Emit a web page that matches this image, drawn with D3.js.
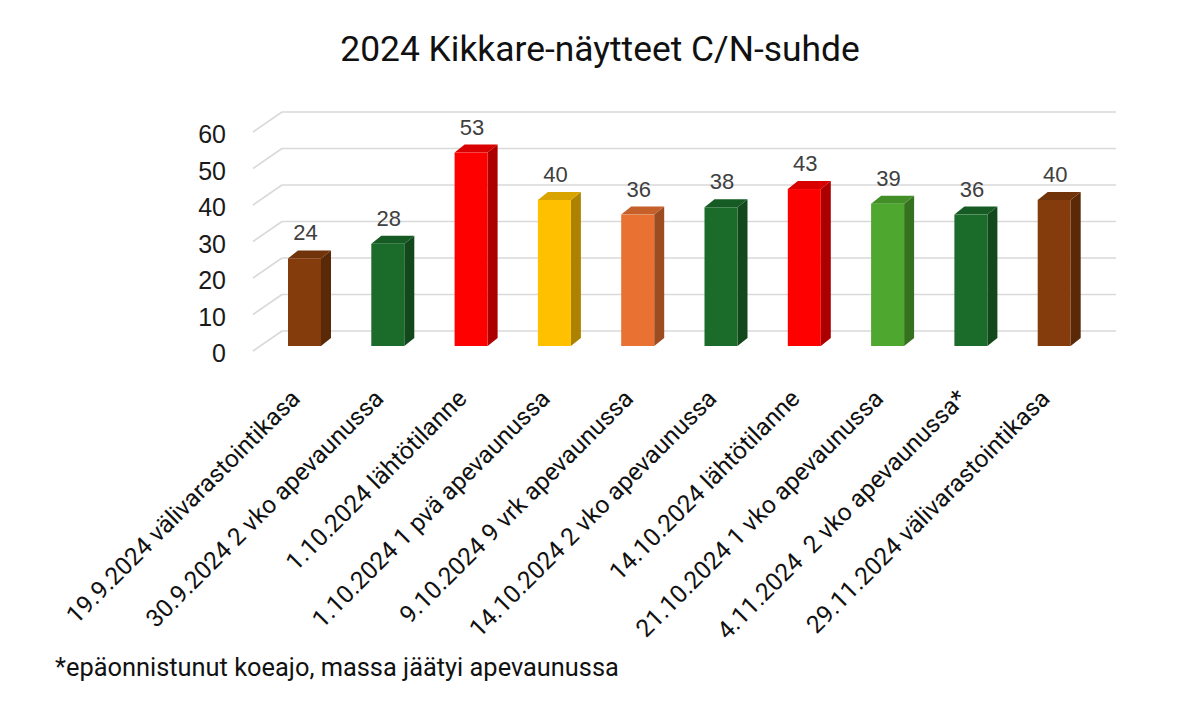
<!DOCTYPE html>
<html><head><meta charset="utf-8">
<script src="https://cdn.jsdelivr.net/npm/d3@7"></script>
<style>
html,body{margin:0;padding:0;background:#fff;}
svg text{white-space:pre;}
</style></head>
<body><svg id="c" width="1200" height="727"></svg>
<script>
const categories = [
  "19.9.2024 välivarastointikasa",
  "30.9.2024 2 vko apevaunussa",
  "1.10.2024 lähtötilanne",
  "1.10.2024 1 pvä apevaunussa",
  "9.10.2024 9 vrk apevaunussa",
  "14.10.2024 2 vko apevaunussa",
  "14.10.2024 lähtötilanne",
  "21.10.2024 1 vko apevaunussa",
  "4.11.2024  2 vko apevaunussa*",
  "29.11.2024 välivarastointikasa"
];
const values = [24, 28, 53, 40, 36, 38, 43, 39, 36, 40];
const barColors = ["#843c0c","#1b6b2a","#ff0000","#ffc000","#e97132","#1b6b2a","#ff0000","#4ea72e","#1b6b2a","#843c0c"];
const yTicks = [0, 10, 20, 30, 40, 50, 60];
const title = "2024 Kikkare-näytteet C/N-suhde";
const footnote = "*epäonnistunut koeajo, massa jäätyi apevaunussa";

const svg = d3.select("#c");
const depthX = 29, depthY = -20;      // front plane -> back wall offset
const x = d3.scaleBand().domain(categories).range([253, 1086]);
const y = d3.scaleLinear().domain([0, 60]).range([331, 112]); // back wall
const barFront = 15;   // bar front face vertical offset from back wall
const barShift = 35, barW = 33, bdx = 10, bdy = -8;

// grid
const g = svg.append("g");
yTicks.forEach(v => {
  g.append("line").attr("x1", 253 + depthX).attr("x2", 1086 + depthX + 1)
    .attr("y1", y(v)).attr("y2", y(v)).attr("stroke", "#d9d9d9").attr("stroke-width", 1.6);
  g.append("line").attr("x1", 253).attr("y1", y(v) - depthY)
    .attr("x2", 253 + depthX).attr("y2", y(v)).attr("stroke", "#d9d9d9").attr("stroke-width", 1.6);
});
// y tick labels
svg.append("g").selectAll("text").data(yTicks).join("text")
  .attr("x", 226).attr("y", d => y(d) - depthY + 2)
  .attr("text-anchor", "end").attr("dominant-baseline", "central")
  .attr("font-family", "Liberation Sans, Arial, sans-serif").attr("font-size", 25)
  .attr("fill", "#1a1a1a").text(d => d);

// bars
const bars = svg.append("g").selectAll("g").data(categories).join("g");
bars.each(function(c, i) {
  const el = d3.select(this);
  const x0 = x(c) + barShift, x1 = x0 + barW;
  const yb = y(0) + barFront, yt = y(values[i]) + barFront;
  const col = d3.color(barColors[i]);
  // side
  el.append("path").attr("d", `M${x1},${yb}L${x1 + bdx},${yb + bdy}L${x1 + bdx},${yt + bdy}L${x1},${yt}Z`)
    .attr("fill", col.darker(1.1));
  // top
  el.append("path").attr("d", `M${x0},${yt}L${x1},${yt}L${x1 + bdx},${yt + bdy}L${x0 + bdx},${yt + bdy}Z`)
    .attr("fill", col.darker(0.45));
  // front
  el.append("rect").attr("x", x0).attr("y", yt).attr("width", barW).attr("height", yb - yt)
    .attr("fill", col);
  // value label
  el.append("text").attr("x", x0 + barW / 2 + 1).attr("y", yt - 18)
    .attr("text-anchor", "middle").attr("font-family", "Liberation Sans, Arial, sans-serif")
    .attr("font-size", 22).attr("fill", "#404040").text(values[i]);
});

// category labels
svg.append("g").selectAll("text").data(categories).join("text")
  .attr("text-anchor", "end")
  .attr("transform", d => `translate(${x(d) + barShift + barW / 2 - 3},400) rotate(-45)`)
  .attr("font-family", "Roboto, sans-serif").attr("font-size", 24.5).attr("fill", "#111")
  .text(d => d);

// title
svg.append("text").attr("x", 600).attr("y", 61).attr("text-anchor", "middle")
  .attr("font-family", "Roboto, sans-serif").attr("font-size", 35.4).attr("fill", "#111").text(title);
// footnote
svg.append("text").attr("x", 55).attr("y", 676)
  .attr("font-family", "Roboto, sans-serif").attr("font-size", 25.4).attr("fill", "#111").text(footnote);
</script></body></html>
